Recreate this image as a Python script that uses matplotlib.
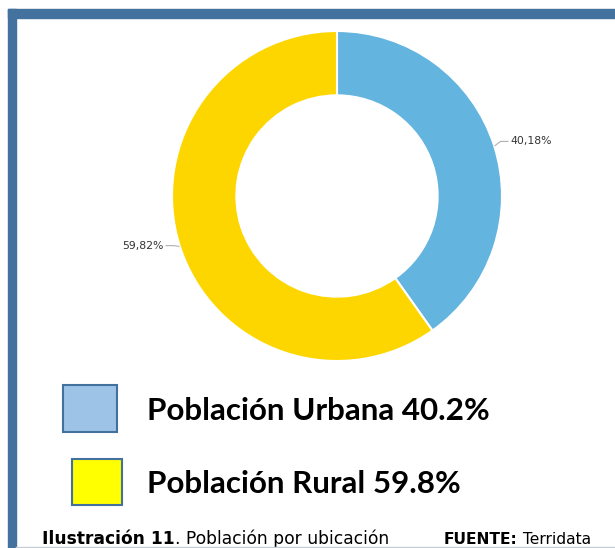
""" Donut chart: Población por ubicación """

import matplotlib
matplotlib.use("Agg")
import numpy as np
import matplotlib.pyplot as plt
from matplotlib.patches import Rectangle

# ----- data -----
categories = ["Población Urbana", "Población Rural"]
shares = [40.18, 59.82]
slice_labels = ["40,18%", "59,82%"]
legend_labels = ["Población Urbana 40.2%", "Población Rural 59.8%"]
slice_colors = ["#63b4de", "#fdd600"]
legend_colors = ["#9dc3e6", "#ffff00"]

W, H = 615, 548
fig = plt.figure(figsize=(W / 100, H / 100), dpi=100)
fig.patch.set_facecolor("white")


def px_rect(x0, y0, w, h):
    """pixel box (top-left origin) -> figure fraction rect"""
    return [x0 / W, 1 - (y0 + h) / H, w / W, h / H]


# ----- frame -----
frame_col = "#43729f"
fig.patches.append(Rectangle((8 / W, 0), 8 / W, 1 - 9 / H, transform=fig.transFigure,
                             color=frame_col, zorder=0))
fig.patches.append(Rectangle((8 / W, 1 - 18 / H), 1, 9 / H, transform=fig.transFigure,
                             color=frame_col, zorder=0))
fig.add_artist(plt.Line2D([16 / W, 1], [1.5 / H, 1.5 / H], transform=fig.transFigure,
                          color="#c5ccd4", lw=1, zorder=5))

# ----- donut -----
cx, cy, r = 337, 196, 165
ax = fig.add_axes(px_rect(cx - r, cy - r, 2 * r, 2 * r))
wedges, _ = ax.pie(shares, colors=slice_colors, startangle=90, counterclock=False,
                   radius=1.0, wedgeprops=dict(width=0.39, edgecolor="white", linewidth=1.5))
ax.set_xlim(-1, 1)
ax.set_ylim(-1, 1)
ax.set_aspect("equal")
ax.axis("off")

for w, lab in zip(wedges, slice_labels):
    ang = np.deg2rad((w.theta1 + w.theta2) / 2)
    ca, sa = np.cos(ang), np.sin(ang)
    side = 1 if ca > 0 else -1
    x1, y1 = 1.005 * ca, 1.005 * sa
    x2, y2 = 1.04 * ca, 1.04 * sa + 0.015
    x3 = x2 + side * 0.045
    ax.plot([x1, x2, x3], [y1, y2, y2], color="#b0b0b0", lw=0.8, clip_on=False)
    ax.text(x3 + side * 0.015, y2, lab, ha="left" if side > 0 else "right", va="center",
            fontsize=7.8, color="#333333", family="DejaVu Sans", clip_on=False)

# ----- legend boxes -----
box_pos = [(63, 385, 54, 47), (72, 459, 50, 46)]
text_y = [411, 484]
for (bx, by, bw, bh), col, lab, ty in zip(box_pos, legend_colors, legend_labels, text_y):
    fig.patches.append(Rectangle((bx / W, 1 - (by + bh) / H), bw / W, bh / H,
                                 transform=fig.transFigure, facecolor=col,
                                 edgecolor="#41719c", lw=1.5))
    fig.text(147 / W, 1 - ty / H, lab, fontsize=22.6, fontweight="bold", family="Lato",
             va="center", ha="left", color="black")

# ----- caption -----
renderer = fig.canvas.get_renderer()
parts = [("Ilustración 11", "bold", 0, 12.3), (". Población por ubicación", "normal", 0, 12.3),
         ("FUENTE:", "bold", 55, 11.2), (" Terridata", "normal", 0, 11.2)]
x = 42
for txt, wt, gap, fs in parts:
    t = fig.text((x + gap) / W, 1 - 544 / H, txt, fontsize=fs, fontweight=wt,
                 family="DejaVu Sans", va="baseline", ha="left", color="black")
    x = t.get_window_extent(renderer).x1

plt.savefig("out.png", dpi=100)
